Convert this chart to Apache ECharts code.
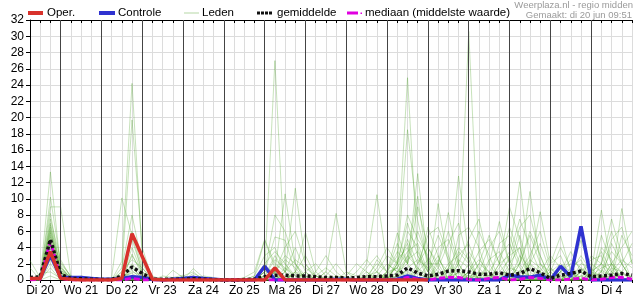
<!DOCTYPE html>
<html><head><meta charset="utf-8">
<script src="https://cdn.jsdelivr.net/npm/echarts@6/dist/echarts.min.js"></script>
<style>html,body{margin:0;padding:0;background:#fff}#c{width:635px;height:300px}</style>
</head><body><div id="c"></div>
<script>
// hours since Di 20 00:00, 6-hourly steps
const hours = [6,12,18,24,30,36,42,48,54,60,66,72,78,84,90,96,102,108,114,120,126,132,138,144,150,156,162,168,174,180,186,192,198,204,210,216,222,228,234,240,246,252,258,264,270,276,282,288,294,300,306,312,318,324,330,336,342,348,354,360];
const dayLabels = ['Di 20','Wo 21','Do 22','Vr 23','Za 24','Zo 25','Ma 26','Di 27','Wo 28','Do 29','Vr 30','Za 1','Zo 2','Ma 3','Di 4'];
const dayBoundaries = [24,48,72,96,120,144,168,192,216,240,264,288,312,336];
const yTicks = [0,2,4,6,8,10,12,14,16,18,20,22,24,26,28,30,32];

// values (mm) at given hours; hours not listed are 0
const oper = {6:0.2,12:0.2,18:3.5,24:0.2,30:0.1,60:0.2,66:5.7,72:2.9,78:0.1,150:1.5};
const operEnd = 240;
const controle = {6:0.1,12:0.2,18:3.1,24:0.3,30:0.3,36:0.3,42:0.2,48:0.1,54:0.1,60:0.2,66:0.4,72:0.3,78:0.1,90:0.1,96:0.2,102:0.3,108:0.2,114:0.1,144:1.7,186:0.1,192:0.1,222:0.1,228:0.5,234:0.2,288:0.6,294:0.4,300:0.35,306:0.6,318:1.7,324:0.4,330:6.6};
const gemiddelde = {6:0.3,12:0.4,18:5.0,24:0.7,30:0.2,36:0.15,42:0.1,48:0.05,54:0.05,60:0.5,66:1.6,72:0.8,78:0.1,84:0.1,90:0.1,96:0.1,102:0.15,108:0.1,114:0.05,132:0.05,138:0.1,144:0.4,150:0.6,156:0.6,162:0.5,168:0.5,174:0.4,180:0.3,186:0.3,192:0.25,198:0.3,204:0.4,210:0.4,216:0.5,222:0.6,228:1.5,234:0.85,240:0.5,246:0.7,252:1.1,258:1.15,264:1.0,270:0.7,276:0.7,282:0.9,288:0.6,294:0.8,300:1.4,306:0.9,312:0.2,318:0.6,324:0.8,330:1.1,336:0.4,342:0.5,348:0.6,354:0.8,360:0.6};
const mediaan = {12:0.1,18:4.8,24:0.2,66:0.2,228:0.3,234:0.1,246:0.2,252:0.3,258:0.3,264:0.1,276:0.2,282:0.3,294:0.1,300:0.3,306:0.2,324:0.1,330:0.2,342:0.1,348:0.3,354:0.3,360:0.1};
const leden = [
{6:2.4,12:0.3,18:13.3,24:1.5,30:0.3,66:3.0,72:1.0,90:1.2,96:0.3,144:1.0,150:27.0,156:2.0,162:0.5,204:0.5,210:1.0,228:3.0,234:1.5,246:9.4,252:2.0,264:1.0,270:2.5,276:1.0,294:3.0,300:1.5,318:1.0,324:2.0,342:1.0,348:3.5,354:2.0},
{6:1.5,18:10.2,24:2.0,30:0.5,54:0.3,60:10.1,66:5.5,72:1.0,102:1.4,108:0.3,150:1.0,156:10.6,162:2.0,168:0.5,210:2.5,216:1.0,222:3.0,228:24.9,234:3.0,240:1.0,258:3.5,264:2.0,282:1.5,288:3.5,294:12.1,300:2.0,330:1.5,336:0.5,354:8.8,360:2.0},
{12:0.5,18:9.0,24:9.0,30:0.5,36:0.2,60:1.0,66:19.7,72:4.0,84:0.5,90:0.3,156:1.0,162:11.3,168:2.0,174:0.5,216:1.0,222:5.8,228:2.0,234:13.1,240:2.0,252:1.0,258:12.8,264:3.0,294:2.0,300:10.9,306:2.0,312:1.0,336:1.0,342:8.6,348:1.5},
{18:8.2,24:1.0,60:2.3,66:24.2,72:2.8,78:0.5,138:0.5,144:4.9,150:1.5,162:1.0,168:5.9,174:1.0,204:2.0,210:10.5,216:2.0,222:1.0,228:3.0,234:10.3,240:1.0,246:3.0,258:2.0,264:30.6,270:3.0,300:2.0,306:8.4,312:2.0,318:5.4,324:1.0,348:2.0,354:1.0},
{18:7.5,24:2.5,30:0.3,60:1.5,66:8.0,72:2.0,96:0.5,102:1.0,144:1.0,150:5.3,156:4.9,162:1.0,180:1.0,186:8.2,192:1.0,222:2.0,228:18.5,234:7.3,240:2.0,246:2.0,252:8.3,258:2.0,276:2.0,282:7.2,288:2.0,294:4.0,324:1.0,330:4.9,336:1.0,342:2.0,348:6.0,354:2.0},
{18:7.0,24:1.8,66:6.0,72:1.5,144:2.0,150:3.5,156:2.0,174:0.5,180:1.5,186:0.5,210:1.0,216:3.0,222:2.0,234:2.0,240:5.5,246:6.5,252:3.0,270:2.0,276:5.5,282:2.0,288:3.0,294:7.5,300:4.0,306:1.0,318:1.0,324:3.5,330:1.0,342:4.0,348:2.5},
{18:6.8,24:1.2,30:0.4,66:5.0,72:1.0,132:0.3,138:1.0,144:5.0,150:2.0,156:1.0,162:4.0,168:1.0,204:1.5,210:3.0,216:1.0,228:6.0,234:4.0,246:2.0,258:5.5,264:6.5,270:4.0,282:2.0,288:9.0,294:5.0,312:2.0,318:3.0,336:3.0,342:2.0,354:5.5,360:3.0},
{18:6.5,24:0.8,66:4.0,72:0.8,144:1.0,150:8.0,156:6.0,162:2.0,192:1.0,198:0.5,222:2.5,228:4.0,234:1.0,240:6.5,246:3.0,264:2.0,270:6.0,276:3.0,294:2.0,300:6.0,306:3.0,330:2.0,336:1.5,348:4.5,354:2.0},
{18:6.2,24:1.5,66:3.2,72:0.5,144:1.5,150:1.0,162:1.0,168:3.0,174:0.5,216:1.0,222:3.5,228:2.0,234:9.0,240:4.0,246:2.0,252:6.0,258:2.0,282:4.5,288:5.5,294:2.0,312:1.0,318:4.0,324:1.5,342:5.5,348:2.0},
{18:6.0,24:1.0,60:1.0,66:2.5,72:1.5,150:1.0,156:4.0,162:6.0,168:2.0,180:1.0,210:1.5,216:4.0,222:2.0,228:7.0,234:3.0,246:1.5,252:4.5,258:7.0,264:2.0,288:2.0,294:6.5,300:8.0,306:3.0,330:1.0,336:2.5,342:3.0,354:2.0,360:4.5},
{18:5.8,24:0.6,66:2.0,72:0.5,144:0.5,150:3.0,156:1.0,168:1.0,174:2.0,180:0.5,204:1.0,222:2.0,228:8.0,234:5.0,240:3.0,258:2.0,264:5.0,270:7.5,276:2.0,288:3.0,294:4.0,318:1.0,324:2.5,330:1.5,342:2.0,348:7.5,354:3.0},
{18:5.5,24:2.2,30:0.5,66:1.8,96:0.2,102:0.5,138:0.5,144:3.0,150:4.0,156:1.0,192:0.5,198:2.0,204:1.0,216:1.0,222:4.5,228:2.0,240:2.0,246:5.5,252:2.5,270:1.0,276:4.0,282:6.0,288:2.0,300:2.0,306:4.5,312:1.0,336:1.0,342:2.0,348:1.0},
{18:5.3,24:1.0,66:1.5,72:0.3,150:1.0,156:3.0,162:2.0,180:0.5,186:2.0,192:0.5,210:0.5,216:2.0,222:1.0,228:2.0,234:6.0,240:2.5,252:1.5,258:4.0,264:2.5,288:1.0,294:2.0,300:5.5,306:2.0,324:1.0,330:3.0,336:1.0,348:2.0,354:4.0,360:6.0},
{18:5.0,24:0.5,66:1.2,144:0.5,150:2.5,156:1.5,204:0.5,210:2.0,216:1.0,222:1.5,228:5.0,234:2.0,240:4.0,246:1.5,264:1.0,270:3.5,276:5.0,282:2.0,294:1.0,300:3.0,306:6.0,312:1.5,336:1.0,342:3.5,348:1.0},
{18:5.0,24:1.3,66:1.0,72:0.5,156:1.0,162:2.5,168:1.5,174:0.5,216:0.5,222:1.5,228:3.5,234:4.5,240:1.0,252:2.0,258:3.0,264:4.5,270:1.0,282:2.0,288:6.5,294:3.0,312:1.0,318:2.0,324:1.0,342:1.0,348:5.0,354:6.5,360:2.0},
{18:4.8,24:0.7,60:0.5,66:0.8,144:1.0,150:1.5,174:1.0,180:3.0,186:1.0,222:1.0,228:2.5,234:3.5,240:1.0,246:4.0,252:5.0,258:1.5,276:1.0,282:3.0,288:4.5,294:1.5,306:1.0,312:3.0,318:1.5,330:1.0,336:2.0,342:1.0},
{18:4.6,24:1.6,30:0.3,66:0.5,150:1.0,156:2.5,162:1.5,198:1.0,204:2.5,210:1.0,222:2.0,228:4.5,234:1.0,258:1.0,264:3.5,270:1.5,282:1.0,288:2.5,300:2.0,306:1.0,324:1.5,330:2.5,348:1.0,354:2.5,360:1.5},
{18:4.5,24:0.4,66:0.3,150:1.0,156:0.5,168:1.0,216:0.8,222:1.5,234:1.0,240:2.5,246:1.0,258:2.5,264:1.5,276:2.5,282:3.5,288:1.0,294:5.5,300:1.0,318:1.0,336:0.5,342:1.5,348:2.0},
{18:4.3,24:0.9,72:0.3,162:1.0,168:0.5,210:0.5,216:0.3,228:1.5,234:2.5,240:1.5,252:1.5,258:1.0,270:2.0,276:1.0,300:2.5,306:1.5,330:0.5,336:1.0,342:0.5,354:1.0,360:2.5},
{18:4.0,24:0.5,66:0.2,144:0.5,150:0.8,186:0.5,192:0.3,222:1.0,228:1.0,246:2.5,252:1.0,264:1.0,288:1.5,294:1.0,312:1.5,318:0.5,348:1.5,354:1.0},
{18:3.8,24:1.1,42:0.3,48:0.2,78:0.3,102:0.8,108:0.2,156:1.5,162:0.5,204:0.5,234:1.5,240:0.5,258:1.0,264:0.5,282:0.8,288:1.0,306:2.0,312:0.5,330:1.0,336:0.5},
{18:3.5,24:0.3,66:0.2,150:0.5,216:0.5,222:0.3,228:1.2,246:1.0,270:1.0,276:0.5,294:1.2,300:0.5,324:0.8,342:1.2,348:0.5},
{18:3.2,24:0.8,36:0.4,90:0.3,96:0.6,162:0.8,168:0.3,234:0.8,240:0.3,252:0.5,258:0.8,282:0.5,288:0.8,318:0.5,354:0.8},
{18:3.0,24:0.6,66:0.1,144:0.3,150:0.5,180:0.4,222:0.6,228:0.8,264:0.6,270:0.3,300:0.6,306:0.3,330:0.5,342:0.6},
{18:2.8,24:0.2,108:0.5,114:0.3,210:0.4,216:0.2,240:0.7,246:0.4,276:0.6,294:0.4,312:0.6,348:0.6,354:0.3},
{6:0.5,18:2.5,24:0.4,36:0.5,42:0.3,156:0.4,228:0.5,234:0.3,258:0.4,288:0.5,324:0.4,360:0.5},
{18:2.0,24:0.3,96:0.4,102:0.2,204:0.3,222:0.4,252:0.3,264:0.4,300:0.4,336:0.4},
{18:1.5,30:0.2,150:0.3,240:0.3,270:0.4,306:0.3,342:0.4},
{12:0.8,18:1.0,24:0.2,216:0.2,246:0.2,282:0.3,318:0.3},
{18:0.5,228:0.2,264:0.2,294:0.2,348:0.2}
];

function pts(sparse, end) {
  return hours.filter(h => end === undefined || h <= end).map(h => [h, sparse[h] || 0]);
}

const FONT = '"Liberation Sans", Arial, sans-serif';
const series = [];
leden.forEach((m, i) => {
  const s = {
    type: 'line', name: 'Leden', data: pts(m), showSymbol: false, silent: true,
    lineStyle: { width: 1, color: 'rgba(80,165,45,0.32)' }, z: 2, animation: false
  };
  if (i === 0) {
    s.markLine = {
      silent: true, symbol: 'none', label: { show: false }, animation: false,
      lineStyle: { color: '#444', width: 1, type: 'solid' },
      data: dayBoundaries.map(d => ({ xAxis: d }))
    };
  }
  series.push(s);
});
series.push({ type: 'line', name: 'Controle', data: pts(controle), showSymbol: false, silent: true, z: 3,
  lineStyle: { width: 3.5, color: '#2f32d0' }, animation: false });
series.push({ type: 'line', name: 'mediaan', data: pts(mediaan), showSymbol: false, silent: true, z: 4,
  lineStyle: { width: 3, color: '#e000e0', type: [6, 3] }, animation: false });
series.push({ type: 'line', name: 'gemiddelde', data: pts(gemiddelde), showSymbol: false, silent: true, z: 5,
  lineStyle: { width: 3.5, color: '#111', type: [3, 2.5] }, animation: false });
series.push({ type: 'line', name: 'Oper.', data: pts(oper, operEnd), showSymbol: false, silent: true, z: 6,
  lineStyle: { width: 3.5, color: '#d8322c' }, animation: false });

const txt = (x, y, s, extra) => Object.assign({ type: 'text', x: x, y: y, silent: true,
  style: Object.assign({ text: s, fontSize: 11.5, fontFamily: FONT, fill: '#000', verticalAlign: 'middle' }, extra || {}) });
const rect = (x, y, w, h, c) => ({ type: 'rect', silent: true, shape: { x: x, y: y, width: w, height: h }, style: { fill: c } });

const graphic = [
  rect(28, 11, 15, 4, '#d8322c'), txt(47, 13, 'Oper.'),
  rect(99, 11, 16, 4, '#2f32d0'), txt(118, 13, 'Controle'),
  rect(184, 12.5, 15, 1, '#b5d6a5'), txt(202, 13, 'Leden'),
  rect(257, 11.5, 3, 3, '#111'), rect(261, 11.5, 3, 3, '#111'), rect(265, 11.5, 3, 3, '#111'), rect(269, 11.5, 3, 3, '#111'),
  txt(277, 13, 'gemiddelde'),
  rect(347, 11.5, 11, 3, '#e000e0'), rect(360.5, 12.5, 1.5, 1.5, '#e000e0'),
  txt(365, 13, 'mediaan (middelste waarde)'),
  { type: 'text', x: 633, y: 5, silent: true, style: { text: 'Weerplaza.nl - regio midden', fontSize: 9.5, fontFamily: FONT, fill: '#9a9a9a', align: 'right', verticalAlign: 'middle' } },
  { type: 'text', x: 632, y: 15.5, silent: true, style: { text: 'Gemaakt: di 20 jun 09:51', fontSize: 9.5, fontFamily: FONT, fill: '#9a9a9a', align: 'right', verticalAlign: 'middle' } }
];

const chart = echarts.init(document.getElementById('c'), null, { renderer: 'canvas' });
chart.setOption({
  animation: false,
  backgroundColor: '#fff',
  grid: { left: 30, right: 0, top: 20, bottom: 20, containLabel: false },
  xAxis: [
    { type: 'value', min: 6, max: 360, interval: 6, position: 'bottom',
      axisLine: { show: true, lineStyle: { color: '#000', width: 1 } },
      axisTick: { show: true, inside: false, length: 3, lineStyle: { color: '#000' } },
      splitLine: { show: true, lineStyle: { color: '#dcdcdc', width: 1 } },
      axisLabel: { show: true, color: '#000', fontSize: 12, fontFamily: FONT, margin: 5,
        showMinLabel: true, showMaxLabel: true,
        formatter: v => ((v - 12) % 24 === 0 ? (dayLabels[(v - 12) / 24] || '') : '') } },
    { type: 'value', min: 6, max: 360, interval: 6, position: 'top',
      axisLine: { show: true, lineStyle: { color: '#000', width: 1 } },
      axisTick: { show: true, inside: true, length: 3, lineStyle: { color: '#000' } },
      splitLine: { show: false }, axisLabel: { show: false } }
  ],
  yAxis: { type: 'value', min: yTicks[0], max: yTicks[yTicks.length - 1], interval: 2,
    axisLine: { show: true, lineStyle: { color: '#000', width: 1 } },
    axisTick: { show: true, inside: false, length: 4, lineStyle: { color: '#000' } },
    splitLine: { show: true, lineStyle: { color: '#dcdcdc', width: 1 } },
    axisLabel: { color: '#000', fontSize: 12, fontFamily: FONT, margin: 6 } },
  graphic: graphic,
  series: series
});
</script></body></html>
